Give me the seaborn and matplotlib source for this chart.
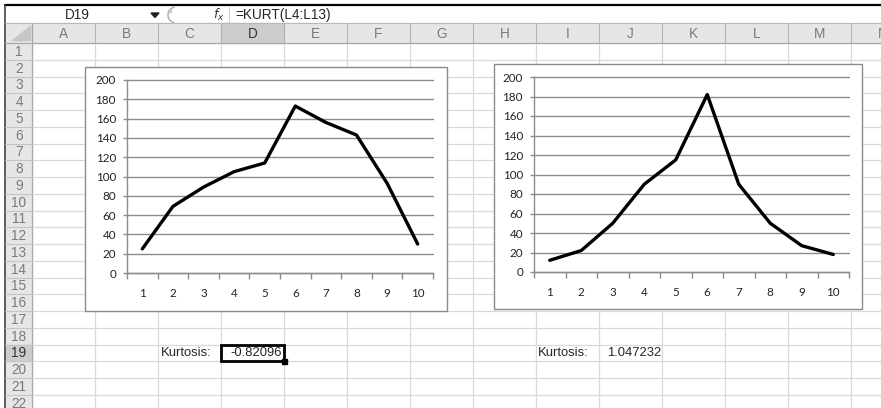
import matplotlib
matplotlib.use("Agg")
import matplotlib.pyplot as plt
import seaborn as sns
from matplotlib.patches import Rectangle, Polygon, Arc

# values
points = list(range(1, 11))
left_values = [25, 69, 89, 105, 114, 173, 156, 143, 93, 30]
right_values = [12, 22, 50, 90, 115, 182, 90, 50, 27, 18]
y_ticks = [0, 20, 40, 60, 80, 100, 120, 140, 160, 180, 200]

# spreadsheet text
col_letters = ["A", "B", "C", "D", "E", "F", "G", "H", "I", "J", "K", "L", "M", "N"]
row_numbers = list(range(1, 23))
name_box = "D19"
formula = "=KURT(L4:L13)"
kurt_label = "Kurtosis:"
left_kurt = "-0.82096"
right_kurt = "1.047232"

sns.set_style("white")
plt.rcParams["font.family"] = ["Liberation Sans", "DejaVu Sans"]

W, H = 881, 408
COL0, COL_W = 32, 63
HEAD_TOP, ROW0, ROW_H = 23, 43, 16.75
GRID = "#d9d9d9"
HEAD_BG = "#e6e6e6"
HEAD_TXT = "#7a7a7a"
CELL_FS = 9.4

fig = plt.figure(figsize=(W / 100, H / 100), dpi=100)
bg = fig.add_axes([0, 0, 1, 1])
bg.set_xlim(0, W)
bg.set_ylim(H, 0)
bg.axis("off")

# formula bar
bg.plot([5, W], [5, 5], color="black", lw=1.6)
bg.plot([5, 5], [5, H], color="#444444", lw=1.2)
bg.text(77, 15, name_box, ha="center", va="center", fontsize=CELL_FS + 0.4)
bg.add_patch(Polygon([[151, 13], [159, 13], [155, 17.5]], closed=True, color="#222222"))
bg.add_patch(Arc((176, 15), 16, 16, theta1=100, theta2=260, color="#b5b5b5", lw=1.2))
bg.plot([170], [10.5], marker="o", ms=1.5, color="#c8c8c8")
bg.text(219, 15, r"$f_x$", ha="center", va="center", fontsize=9, color="#333333")
bg.plot([229, 229], [7, 22], color="#d0d0d0", lw=0.8)
bg.text(235, 15, formula, ha="left", va="center", fontsize=CELL_FS + 0.4)

# column header row
bg.add_patch(Rectangle((5, HEAD_TOP), W - 5, ROW0 - HEAD_TOP, color=HEAD_BG, zorder=1))
bg.add_patch(Rectangle((COL0 + 3 * COL_W, HEAD_TOP), COL_W, ROW0 - HEAD_TOP,
                       color="#cdcdcd", zorder=1))
bg.plot([5, W], [HEAD_TOP, HEAD_TOP], color="#b8b8b8", lw=0.8, zorder=2)
bg.plot([5, W], [ROW0, ROW0], color="#a8a8a8", lw=0.9, zorder=2)
for i, letter in enumerate(col_letters):
    x0 = COL0 + i * COL_W
    bg.plot([x0, x0], [HEAD_TOP, ROW0], color="#b4b4b4", lw=0.8, zorder=2)
    bg.text(x0 + COL_W / 2, (HEAD_TOP + ROW0) / 2 + 0.5, letter, ha="center", va="center",
            fontsize=CELL_FS + 0.4, color="#333333" if letter == "D" else HEAD_TXT, zorder=3)
bg.add_patch(Polygon([[12, 40], [30, 40], [30, 26]], closed=True, color="#c6c6c6", zorder=3))

# row header column
bg.add_patch(Rectangle((5, ROW0), COL0 - 5, H - ROW0, color=HEAD_BG, zorder=1))
bg.add_patch(Rectangle((5, ROW0 + 18 * ROW_H), COL0 - 5, ROW_H, color="#cdcdcd", zorder=1))
bg.plot([COL0, COL0], [HEAD_TOP, H], color="#a8a8a8", lw=0.9, zorder=2)
for n in row_numbers:
    y0 = ROW0 + (n - 1) * ROW_H
    bg.plot([5, COL0], [y0 + ROW_H, y0 + ROW_H], color="#c4c4c4", lw=0.8, zorder=2)
    bg.text(19, y0 + ROW_H / 2 + 0.5, str(n), ha="center", va="center", fontsize=CELL_FS + 0.4,
            color="#333333" if n == 19 else HEAD_TXT, zorder=3)

# cell grid
for i in range(1, len(col_letters) + 1):
    x0 = COL0 + i * COL_W
    bg.plot([x0, x0], [ROW0, H], color=GRID, lw=0.9, zorder=1)
for n in row_numbers:
    y0 = ROW0 + n * ROW_H
    bg.plot([COL0, W], [y0, y0], color=GRID, lw=0.9, zorder=1)

# chart boxes
bg.add_patch(Rectangle((85, 67), 447 - 85, 311 - 67, facecolor="white",
                       edgecolor="#8a8a8a", lw=1, zorder=4))
bg.add_patch(Rectangle((494, 64), 862 - 494, 309 - 64, facecolor="white",
                       edgecolor="#8a8a8a", lw=1, zorder=4))

# kurtosis cells
row19 = ROW0 + 18 * ROW_H
bg.text(161, row19 + ROW_H / 2 + 0.5, kurt_label, ha="left", va="center", fontsize=CELL_FS, zorder=5)
bg.text(282, row19 + ROW_H / 2 + 0.5, left_kurt, ha="right", va="center", fontsize=CELL_FS, zorder=5)
bg.text(538, row19 + ROW_H / 2 + 0.5, kurt_label, ha="left", va="center", fontsize=CELL_FS, zorder=5)
bg.text(661, row19 + ROW_H / 2 + 0.5, right_kurt, ha="right", va="center", fontsize=CELL_FS, zorder=5)
bg.add_patch(Rectangle((COL0 + 3 * COL_W, row19), COL_W, ROW_H, fill=False,
                       edgecolor="black", lw=2, zorder=5))
bg.add_patch(Rectangle((COL0 + 4 * COL_W - 2.5, row19 + ROW_H - 2.5), 5, 5,
                       color="black", zorder=6))


def draw_chart(rect, values):
    ax = fig.add_axes(rect, zorder=5)
    ax.set_facecolor("none")
    sns.lineplot(x=points, y=values, ax=ax, color="black", linewidth=2.4,
                 solid_joinstyle="round", solid_capstyle="round")
    ax.set_xlim(0.5, 10.5)
    ax.set_ylim(0, 200)
    ax.set_yticks(y_ticks)
    ax.set_xticks(points)
    ax.set_xticks([p + 0.5 for p in [0] + points], minor=True)
    ax.grid(axis="y", color="#8c8c8c", lw=1)
    for line in ax.get_ygridlines():
        line.set_clip_on(False)
    ax.set_axisbelow(True)
    for side in ["top", "right"]:
        ax.spines[side].set_visible(False)
    for side in ["left", "bottom"]:
        ax.spines[side].set_color("#8c8c8c")
        ax.spines[side].set_linewidth(1)
    ax.tick_params(axis="y", length=3, width=1, color="#8c8c8c", pad=5,
                   labelsize=8.4, labelcolor="#222222", direction="out", left=True)
    ax.tick_params(axis="x", which="major", length=0, pad=11,
                   labelsize=8.4, labelcolor="#222222", bottom=True)
    ax.tick_params(axis="x", which="minor", length=4, width=1, color="#8c8c8c",
                   direction="out", bottom=True)
    for lab in ax.get_xticklabels() + ax.get_yticklabels():
        lab.set_family(["Lato", "DejaVu Sans"])
    ax.set_xlabel("")
    ax.set_ylabel("")
    return ax


draw_chart([127 / W, (H - 273) / H, 306 / W, 193 / H], left_values)
draw_chart([534 / W, (H - 272) / H, 315 / W, 195 / H], right_values)

fig.savefig("out.png", dpi=100)
